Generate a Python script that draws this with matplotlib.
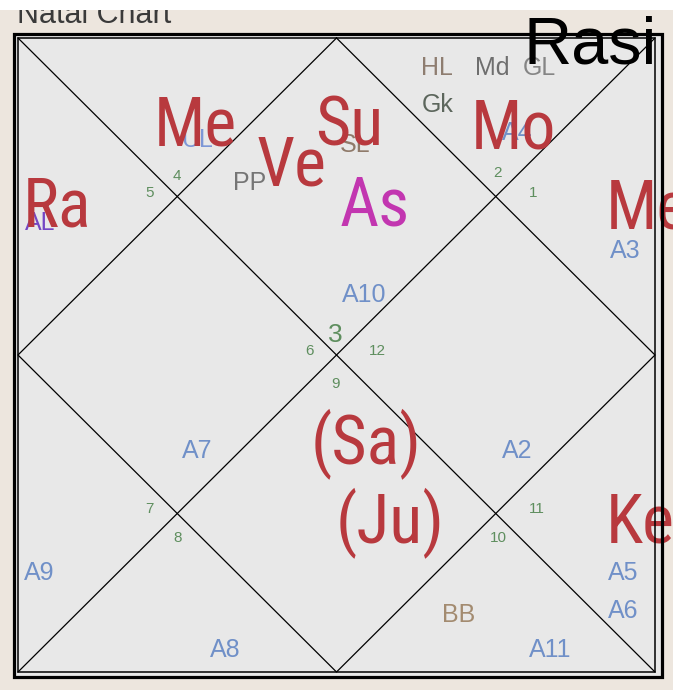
import matplotlib
matplotlib.use("Agg")
import matplotlib.pyplot as plt
from matplotlib.patches import Rectangle

# ---- chart content (house 1 = top diamond, counter-clockwise) ----
sign_numbers = ["3", "4", "5", "6", "7", "8", "9", "10", "11", "12", "1", "2"]
grahas = ["Me", "Ra", "Ve", "Su", "As", "Mo", "Me", "(Sa)", "(Ju)", "Ke"]
special_lagnas = ["UL", "AL", "PP", "SL", "HL", "Md", "GL", "Gk", "BB"]
arudhas = ["A4", "A3", "A10", "A7", "A9", "A8", "A2", "A5", "A6", "A11"]
title = "Rasi"
header = "Natal Chart"

# ---- layout: positions as fractions of the chart square (u right, v down) ----
sign_pos = [(.498, .479), (.250, .224), (.207, .251), (.458, .500),
            (.207, .749), (.251, .795), (.499, .552), (.754, .795),
            (.815, .749), (.564, .500), (.808, .251), (.752, .219)]
graha_pos = [(.278, .169), (.061, .298), (.430, .232), (.520, .169),
             (.560, .295), (.777, .174), (.922, .300), (.546, .670),
             (.584, .795), (.922, .795)]
graha_ha = ["center"] * 6 + ["left", "center", "center", "left"]
lagna_pos = [(.281, .172), (.035, .303), (.364, .240), (.529, .180),
             (.658, .058), (.744, .058), (.819, .058), (.659, .117),
             (.691, .921)]
arudha_pos = [(.784, .161), (.953, .347), (.543, .416), (.281, .662),
              (.033, .855), (.325, .976), (.783, .662), (.950, .855),
              (.950, .915), (.835, .976)]

RED = "#b8393e"
MAGENTA = "#c236b0"
BLUE = "#7090c8"
GREEN = "#5e8e5e"
lagna_colors = ["#7d97d6", "#7446c4", "#757575", "#8f7a6a", "#8e7d70",
                "#6e6e6e", "#858585", "#5c665c", "#a38b70"]

W, H = 673, 690
X0, Y0, SW, SH = 18, 38, 637, 634   # chart square in pixels

NARROW = ["Liberation Sans Narrow", "Roboto Condensed", "Arial Narrow",
          "Liberation Sans", "DejaVu Sans"]
REG = ["Liberation Sans", "DejaVu Sans"]


def to_px(u, v):
    return X0 + u * SW, Y0 + v * SH


fig = plt.figure(figsize=(W / 100, H / 100), dpi=100)
fig.patch.set_facecolor("#ede6de")
ax = fig.add_axes([0, 0, 1, 1])
ax.set_xlim(0, W)
ax.set_ylim(H, 0)
ax.axis("off")

# header strip, its top cut off by a white band
ax.text(17, 23, header, fontsize=22, family=REG, color="#3a3a3a",
        ha="left", va="baseline", zorder=1)
ax.add_patch(Rectangle((0, 0), W, 10, facecolor="white", edgecolor="none", zorder=2))

# chart body
ax.add_patch(Rectangle((13, 33), 650, 644, facecolor="#e8e8e8", edgecolor="none", zorder=0))
x1, y1 = X0 + SW, Y0 + SH
xm, ym = X0 + SW / 2, Y0 + SH / 2
lkw = dict(color="black", lw=0.9, zorder=3)
ax.plot([X0, x1], [Y0, y1], **lkw)
ax.plot([X0, x1], [y1, Y0], **lkw)
ax.plot([xm, x1, xm, X0, xm], [Y0, ym, y1, ym, Y0], **lkw)

for lbl, (u, v) in zip(sign_numbers, sign_pos):
    x, y = to_px(u, v)
    ax.text(x, y, lbl, fontsize=19 if lbl == "3" else 11, family=REG,
            color=GREEN, ha="center", va="baseline", zorder=4)

for lbl, (u, v), c in zip(special_lagnas, lagna_pos, lagna_colors):
    x, y = to_px(u, v)
    ax.text(x, y, lbl, fontsize=18, family=REG, color=c,
            ha="center", va="baseline", zorder=4)

for lbl, (u, v) in zip(arudhas, arudha_pos):
    x, y = to_px(u, v)
    ax.text(x, y, lbl, fontsize=18, family=REG, color=BLUE,
            ha="center", va="baseline", zorder=4)

for lbl, (u, v), ha in zip(grahas, graha_pos, graha_ha):
    x, y = to_px(u, v)
    ax.text(x, y, lbl, fontsize=49, family=NARROW,
            color=MAGENTA if lbl == "As" else RED,
            ha=ha, va="baseline", zorder=5)

# double border drawn over the labels
ax.add_patch(Rectangle((X0, Y0), SW, SH, fill=False, edgecolor="black", lw=1.1, zorder=6))
ax.add_patch(Rectangle((13.5, 33.5), 648, 643, fill=False, edgecolor="black", lw=2.3, zorder=6))

ax.text(657, 63, title, fontsize=48, family=REG, color="black",
        ha="right", va="baseline", zorder=7)

fig.savefig("out.png", dpi=100, facecolor=fig.get_facecolor())
